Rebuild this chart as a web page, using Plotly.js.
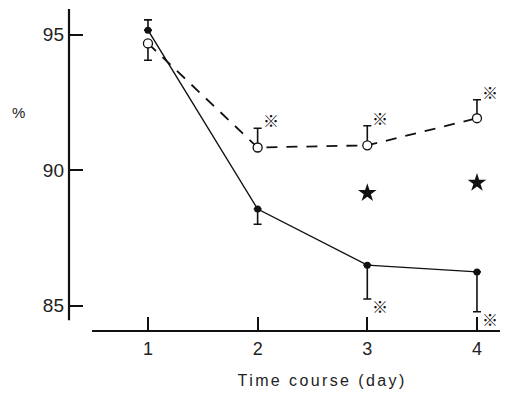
<!DOCTYPE html>
<html>
<head>
<meta charset="utf-8">
<script src="https://cdn.plot.ly/plotly-3.0.1.min.js"></script>
<style>
  html, body { margin: 0; padding: 0; background: #fff; }
  #chart { width: 505px; height: 393px; }
</style>
</head>
<body>
<div id="chart"></div>
<script>
// Time course (days)
const days = [1, 2, 3, 4];

// Filled circles, solid line: mean % and one-sided error (upper / lower)
const filledMean  = [95.17, 88.57, 86.50, 86.25];
const filledUpper = [0.38, 0, 0, 0];
const filledLower = [0, 0.56, 1.25, 1.47];

// Open circles, dashed line: mean % and one-sided error (upper / lower)
const openMean  = [94.68, 90.84, 90.92, 91.92];
const openUpper = [0, 0.71, 0.72, 0.68];
const openLower = [0.62, 0, 0, 0];

// Significance stars between groups
const starDays = [3, 4];
const starY    = [89.16, 89.54];

// Asterisk marks beside error bar ends: [series, day index, side]
const asteriskMarks = [
  ['open', 1, 'up'], ['open', 2, 'up'], ['open', 3, 'up'],
  ['filled', 2, 'down'], ['filled', 3, 'down']
];

const yTicks = [85, 90, 95];
const xTicks = [1, 2, 3, 4];

const font = 'Liberation Sans, Arial, Helvetica, sans-serif';

const traces = [
  {
    x: days, y: filledMean, type: 'scatter', mode: 'lines+markers',
    line: { color: '#111', width: 1.4 },
    marker: { symbol: 'circle', size: 7, color: '#111' },
    error_y: { type: 'data', symmetric: false, array: filledUpper, arrayminus: filledLower,
               color: '#111', thickness: 1.6, width: 4 },
    cliponaxis: false
  },
  {
    x: days, y: openMean, type: 'scatter', mode: 'lines+markers',
    line: { color: '#111', width: 1.8, dash: '11px,9px' },
    marker: { symbol: 'circle', size: 9, color: '#fff', line: { color: '#111', width: 1.3 } },
    error_y: { type: 'data', symmetric: false, array: openUpper, arrayminus: openLower,
               color: '#111', thickness: 1.6, width: 4 },
    cliponaxis: false
  },
  {
    x: starDays, y: starY, type: 'scatter', mode: 'markers',
    marker: { symbol: 'star', size: 14, color: '#111' },
    cliponaxis: false
  }
];

const annotations = asteriskMarks.map(([series, i, side]) => {
  const mean = series === 'open' ? openMean : filledMean;
  const up = series === 'open' ? openUpper : filledUpper;
  const lo = series === 'open' ? openLower : filledLower;
  const y = side === 'up' ? mean[i] + up[i] : mean[i] - lo[i];
  return {
    x: days[i], y: y, xref: 'x', yref: 'y', text: '※', showarrow: false,
    xanchor: 'center', yanchor: 'middle',
    xshift: 13, yshift: side === 'up' ? 8 : -7,
    font: { family: 'Noto Sans CJK JP, DejaVu Sans, sans-serif', size: 16, color: '#111' }
  };
});

// free labels, given in pixels and converted to paper coordinates below
const W = 505, H = 393, M = { l: 69, r: 5, t: 9, b: 62 };
const freeLabels = [
  { px: 18, py: 112, text: '%', size: 15 },
  { px: 322, py: 380, text: 'Time course (day)', size: 16 }
];
freeLabels.forEach(l => annotations.push({
  x: (l.px - M.l) / (W - M.l - M.r),
  y: 1 - (l.py - M.t) / (H - M.t - M.b),
  xref: 'paper', yref: 'paper', xanchor: 'center', yanchor: 'middle',
  text: l.text, showarrow: false,
  font: { family: font, size: l.size, color: '#222' }
}));

const layout = {
  width: W, height: H,
  margin: M,
  paper_bgcolor: '#fff', plot_bgcolor: '#fff',
  showlegend: false,
  font: { family: font, color: '#222' },
  xaxis: {
    range: [0.28, 4.21], tickvals: xTicks, ticktext: xTicks.map(String),
    ticks: 'inside', ticklen: 14, tickwidth: 2, tickcolor: '#111',
    showline: false, showgrid: false, zeroline: false,
    tickfont: { family: font, size: 18, color: '#222' }, ticklabelstandoff: 5
  },
  yaxis: {
    range: [84.07, 95.95], tickvals: yTicks, ticktext: yTicks.map(String),
    ticks: 'inside', ticklen: 14, tickwidth: 2, tickcolor: '#111',
    showline: false, showgrid: false, zeroline: false,
    tickfont: { family: font, size: 19, color: '#222' }, ticklabelstandoff: 4
  },
  shapes: [
    // vertical axis line, stopping short of the horizontal one
    { type: 'line', xref: 'paper', yref: 'y', x0: 0, x1: 0, y0: 84.47, y1: 95.95,
      line: { color: '#111', width: 2.2 } },
    // horizontal axis line, starting right of the vertical one
    { type: 'line', xref: 'x', yref: 'paper', x0: 0.49, x1: 4.21, y0: 0, y1: 0,
      line: { color: '#111', width: 2.2 } }
  ],
  annotations: annotations
};

Plotly.newPlot('chart', traces, layout, { staticPlot: true, displayModeBar: false }).then(gd => {
  // widen the spacing of the axis caption
  gd.querySelectorAll('.annotation-text').forEach(t => {
    if (t.textContent === 'Time course (day)') t.style.letterSpacing = '2.4px';
  });
});
</script>
</body>
</html>
